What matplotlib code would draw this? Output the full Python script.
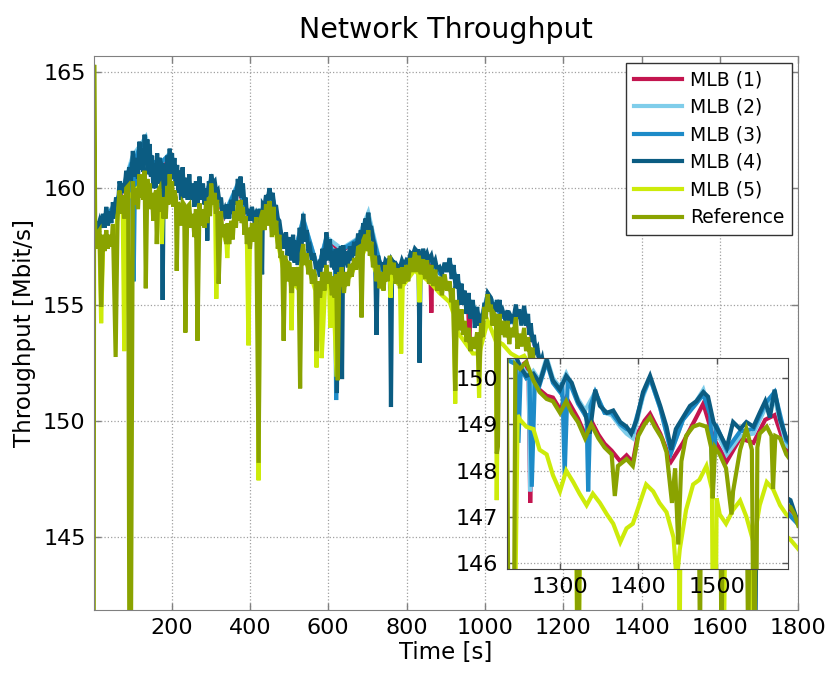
import numpy as np
import matplotlib
matplotlib.use("Agg")
import matplotlib.pyplot as plt

# ---- data: (time [s], throughput [Mbit/s]) ----
mlb1 = [(5, 158.1), (25, 158.6), (50, 159.1), (75, 159.9), (101, 161.2), (118, 161.6), (134, 161.6),
        (150, 161.0), (169, 160.9), (195, 161.3), (220, 160.4), (254, 159.9), (288, 159.7), (301, 160.2),
        (335, 158.8), (369, 160.0), (395, 158.8), (433, 159.0), (458, 159.4), (484, 157.6), (518, 157.4),
        (536, 158.5), (574, 156.5), (595, 157.8), (634, 157.3), (676, 157.8), (702, 158.6), (736, 156.5),
        (778, 156.4), (821, 157.2), (860, 156.9), (863, 154.65), (866, 156.9), (884, 156.4), (910, 156.7),
        (948, 155.3), (957, 155.1), (960, 153.15), (963, 155.0), (969, 154.9), (990, 154.4), (1007, 155.3),
        (1045, 154.5), (1066, 154.3), (1100, 154.6), (1134, 152.9), (1160, 151.9), (1200, 151.0),
        (1232, 150.5), (1249, 150.25), (1257, 150.35), (1260, 150.0), (1262, 147.3), (1265, 149.9),
        (1274, 149.75), (1283, 149.62), (1291, 149.58), (1300, 149.33), (1308, 149.58), (1323, 149.13),
        (1332, 148.78), (1340, 149.08), (1349, 148.78), (1357, 148.58), (1366, 148.43), (1377, 148.2),
        (1385, 148.33), (1393, 148.18), (1400, 148.83), (1408, 149.08), (1415, 149.23), (1428, 148.8),
        (1442, 148.2), (1457, 148.6), (1474, 149.15), (1483, 149.45), (1496, 148.7), (1513, 148.2),
        (1530, 148.7), (1547, 148.6), (1562, 149.1), (1574, 149.2), (1589, 148.45), (1620, 148.0),
        (1700, 147.2), (1800, 145.8)]

mlb2 = [(5, 158.2), (25, 158.7), (50, 159.2), (75, 160.0), (101, 161.4), (118, 161.8), (134, 162.2),
        (150, 161.1), (169, 161.0), (195, 161.5), (220, 160.5), (254, 160.0), (288, 159.8), (301, 160.4),
        (335, 158.9), (369, 160.2), (395, 158.9), (433, 159.1), (458, 159.6), (484, 157.7), (518, 157.5),
        (536, 158.7), (574, 156.5), (595, 157.9), (634, 157.4), (676, 157.85), (702, 158.95), (736, 156.5),
        (778, 156.4), (821, 157.2), (863, 156.9), (884, 156.4), (910, 156.8), (948, 155.4), (969, 155.0),
        (990, 154.4), (1007, 155.45), (1045, 154.55), (1066, 154.3), (1100, 154.8), (1134, 152.95),
        (1160, 152.0), (1200, 151.0), (1232, 150.45), (1249, 150.3), (1257, 150.1), (1260, 150.1),
        (1262, 147.55), (1264, 150.1), (1266, 150.15), (1274, 149.95), (1283, 150.45), (1291, 150.0),
        (1300, 149.8), (1308, 150.1), (1323, 149.55), (1332, 149.3), (1345, 149.7), (1357, 149.25),
        (1366, 149.2), (1377, 148.95), (1385, 148.8), (1393, 148.7), (1406, 149.6), (1415, 150.0),
        (1428, 149.35), (1442, 148.4), (1457, 149.1), (1474, 149.5), (1483, 149.75), (1496, 149.0),
        (1513, 148.35), (1530, 148.75), (1547, 148.8), (1562, 149.35), (1574, 149.55), (1589, 148.55),
        (1620, 148.1), (1700, 147.3), (1800, 145.6)]

mlb3 = [(5, 158.15), (25, 158.65), (50, 159.15), (75, 159.95), (98, 161.1), (103, 156.0), (107, 161.2),
        (118, 161.75), (134, 161.95), (150, 161.15), (169, 161.05), (195, 161.45), (220, 160.5),
        (254, 159.95), (288, 159.75), (301, 160.35), (335, 158.85), (369, 160.15), (395, 158.85),
        (433, 159.05), (458, 159.55), (484, 157.65), (518, 157.5), (536, 158.65), (574, 156.5),
        (595, 157.85), (617, 157.1), (620, 150.9), (624, 157.2), (634, 157.35), (676, 157.8), (702, 158.7),
        (736, 156.5), (778, 156.35), (821, 157.15), (863, 156.85), (884, 156.35), (910, 156.75),
        (948, 155.35), (969, 154.95), (990, 154.35), (1007, 155.25), (1045, 154.5), (1066, 154.25),
        (1100, 154.7), (1134, 152.9), (1160, 151.95), (1200, 150.95), (1232, 150.4), (1244, 150.3),
        (1247, 148.6), (1250, 150.2), (1257, 150.0), (1261, 150.05), (1264, 147.65), (1268, 150.0),
        (1274, 149.85), (1283, 150.35), (1291, 149.9), (1300, 149.7), (1303, 149.9), (1306, 147.9),
        (1310, 150.0), (1323, 149.45), (1332, 149.2), (1334, 149.2), (1336, 147.55), (1339, 149.4),
        (1345, 149.7), (1357, 149.25), (1366, 149.25), (1377, 149.0), (1385, 148.9), (1393, 148.85),
        (1406, 149.65), (1415, 150.0), (1428, 149.35), (1442, 148.4), (1457, 149.1), (1474, 149.45),
        (1483, 149.65), (1492, 149.2), (1495, 147.6), (1499, 149.0), (1513, 148.45), (1530, 148.85),
        (1547, 148.9), (1562, 149.45), (1574, 149.7), (1589, 148.65), (1620, 148.15), (1700, 147.35),
        (1800, 145.55)]

mlb4 = [(2, 158.3), (16, 158.6), (25, 158.9), (33, 159.2), (42, 159.0), (50, 159.4), (58, 159.6),
        (67, 160.3), (75, 160.2), (84, 160.75), (92, 160.9), (101, 161.6), (110, 161.3), (118, 162.0),
        (125, 161.7), (131, 162.3), (138, 162.1), (144, 161.9), (150, 161.4), (156, 161.05), (163, 161.5),
        (169, 161.3), (174, 161.0), (177, 155.2), (180, 160.95), (182, 161.05), (189, 161.4), (195, 161.7),
        (201, 161.5), (207, 161.3), (214, 161.0), (220, 160.75), (228, 160.9), (237, 160.45), (245, 160.6),
        (254, 160.2), (262, 160.3), (271, 160.5), (280, 160.2), (288, 160.0), (291, 157.75), (295, 160.3),
        (301, 160.6), (310, 160.3), (318, 159.9), (326, 159.6), (335, 159.1), (343, 159.3), (352, 159.5),
        (360, 159.9), (369, 160.4), (376, 160.5), (382, 160.2), (389, 159.6), (395, 159.1), (405, 159.2),
        (416, 158.95), (425, 159.1), (431, 156.3), (433, 159.3), (441, 159.7), (450, 160.0), (458, 159.8),
        (467, 159.2), (475, 158.6), (484, 157.9), (492, 158.1), (501, 157.9), (510, 158.0), (518, 157.75),
        (527, 158.3), (536, 158.9), (545, 158.2), (553, 157.45), (563, 157.2), (574, 156.75), (585, 157.4),
        (595, 158.1), (604, 157.8), (613, 157.3), (619, 157.4), (622, 151.2), (626, 157.4), (632, 157.5),
        (635, 151.8), (638, 157.55), (645, 157.3), (655, 157.5), (666, 157.7), (676, 158.05), (683, 158.2),
        (689, 158.5), (695, 158.7), (702, 158.95), (710, 158.3), (719, 157.5), (723, 153.7), (727, 157.1),
        (736, 156.75), (746, 156.9), (757, 157.0), (760, 150.6), (763, 156.9), (767, 156.8), (778, 156.6),
        (788, 156.9), (799, 156.9), (810, 157.2), (821, 157.4), (830, 157.3), (833, 152.5), (836, 157.3),
        (842, 157.4), (852, 157.2), (863, 157.1), (873, 156.9), (884, 156.6), (897, 156.8), (910, 157.0),
        (920, 156.7), (931, 156.3), (940, 155.9), (948, 155.6), (958, 155.5), (969, 155.2), (980, 154.9),
        (990, 154.6), (998, 155.0), (1007, 155.5), (1015, 155.3), (1024, 155.0), (1031, 155.2),
        (1037, 155.2), (1045, 154.75), (1058, 154.75), (1066, 154.5), (1079, 155.0), (1087, 154.8),
        (1100, 154.95), (1110, 154.6), (1117, 154.2), (1125, 153.7), (1134, 153.15), (1146, 152.7),
        (1160, 152.2), (1180, 151.6), (1200, 151.2), (1220, 150.7), (1234, 150.5), (1241, 150.6),
        (1249, 150.25), (1257, 150.05), (1266, 150.1), (1274, 149.9), (1283, 150.4), (1291, 149.95),
        (1300, 149.75), (1308, 150.05), (1315, 149.9), (1323, 149.5), (1332, 149.25), (1338, 148.8),
        (1345, 149.75), (1351, 149.4), (1360, 149.25), (1368, 149.3), (1377, 149.05), (1385, 148.95),
        (1391, 148.8), (1398, 149.1), (1406, 149.7), (1415, 150.05), (1421, 149.75), (1428, 149.4),
        (1436, 148.95), (1442, 148.45), (1448, 148.9), (1457, 149.15), (1466, 149.4), (1474, 149.5),
        (1483, 149.7), (1489, 149.6), (1496, 149.05), (1504, 148.8), (1513, 148.5), (1521, 149.05),
        (1530, 148.9), (1538, 149.05), (1547, 148.95), (1555, 149.25), (1562, 149.5), (1568, 149.15),
        (1574, 149.75), (1581, 149.1), (1589, 148.7), (1600, 148.5), (1620, 148.2), (1640, 148.0),
        (1660, 147.8), (1680, 147.6), (1686, 147.5), (1690, 140.0), (1694, 147.45), (1700, 147.4),
        (1720, 147.2), (1732, 147.1), (1735, 143.9), (1738, 147.0), (1760, 146.8), (1780, 146.6),
        (1790, 146.1), (1800, 145.6)]

# lower edge of the jagged MLB (4) trace in the main panel
mlb4_troughs = [(9, 158.2), (20, 158.3), (29, 158.3), (37, 158.4), (46, 158.5), (54, 158.7), (62, 159.0),
                (71, 159.9), (79, 159.8), (88, 160.1), (96, 160.3), (105, 160.5), (114, 160.4),
                (121, 160.8), (128, 160.7), (134, 161.0), (141, 160.6), (147, 160.5), (153, 160.0),
                (159, 160.0), (166, 160.2), (185, 159.9), (192, 160.4), (198, 160.8), (204, 160.4),
                (210, 160.1), (217, 159.8), (224, 159.5), (232, 159.6), (241, 159.5), (249, 159.5),
                (258, 159.2), (266, 159.3), (275, 159.5), (284, 159.3), (298, 159.8), (305, 160.2),
                (314, 159.8), (322, 159.4), (330, 158.9), (339, 158.7), (347, 158.7), (356, 158.9),
                (364, 159.3), (372, 159.7), (379, 159.6), (386, 159.3), (392, 158.9), (400, 158.6),
                (410, 158.7), (420, 158.8), (437, 159.2), (445, 159.5), (454, 159.5), (462, 159.2),
                (471, 158.7), (479, 158.1), (488, 157.4), (496, 157.1), (505, 156.9), (514, 156.8),
                (522, 156.7), (531, 157.2), (540, 157.7), (549, 157.3), (558, 156.9), (568, 156.6),
                (579, 156.2), (590, 156.6), (600, 156.9), (609, 156.6), (616, 156.5), (629, 156.7),
                (641, 156.7), (650, 156.6), (660, 156.9), (671, 157.1), (680, 157.5), (686, 157.7),
                (692, 157.9), (698, 158.2), (706, 158.3), (714, 157.8), (731, 156.8), (741, 156.5),
                (751, 156.8), (771, 156.8), (783, 156.6), (793, 156.7), (804, 156.8), (815, 157.1),
                (826, 157.3), (839, 157.0), (847, 157.0), (857, 156.9), (868, 156.7), (878, 156.5),
                (890, 156.3), (903, 156.4), (915, 156.1), (925, 155.7), (935, 155.0), (944, 155.0),
                (953, 154.6), (963, 154.4), (974, 154.0), (985, 154.1), (994, 154.3), (1002, 155.0),
                (1011, 155.4), (1019, 155.0), (1027, 154.7), (1034, 154.7), (1041, 154.6), (1051, 154.4),
                (1062, 154.2), (1072, 154.3), (1083, 154.4), (1093, 154.1), (1105, 154.1), (1113, 153.7),
                (1121, 153.4), (1129, 153.0), (1140, 152.4), (1153, 152.0)]

mlb5 = [(2, 157.4), (8, 157.6), (16, 157.6), (20, 154.2), (25, 157.5), (35, 157.6), (45, 157.8),
        (56, 158.0), (67, 159.4), (75, 159.2), (79, 153.0), (84, 159.5), (101, 159.8), (118, 160.1),
        (131, 160.3), (144, 159.8), (156, 159.0), (172, 159.3), (175, 157.6), (178, 159.3), (182, 159.2),
        (195, 160.1), (207, 159.4), (220, 158.8), (237, 158.7), (254, 158.4), (271, 158.9), (288, 159.0),
        (301, 159.7), (311, 159.2), (314, 155.25), (318, 158.9), (335, 157.9), (339, 158.0), (342, 157.0),
        (345, 158.0), (352, 158.1), (369, 159.0), (382, 158.7), (392, 158.0), (396, 153.25), (400, 157.9),
        (416, 158.2), (420, 158.2), (422, 147.45), (425, 158.3), (433, 158.5), (450, 158.9), (467, 158.0),
        (484, 156.6), (501, 156.2), (504, 156.1), (506, 153.9), (509, 156.0), (518, 155.8), (536, 157.1),
        (553, 156.4), (567, 155.6), (570, 152.3), (574, 155.4), (580, 155.7), (583, 152.7), (587, 154.0),
        (592, 155.9), (595, 156.1), (602, 155.9), (605, 154.0), (609, 155.7), (613, 155.6), (621, 151.9),
        (625, 155.8), (634, 156.0), (655, 156.2), (676, 156.9), (689, 157.2), (702, 157.7), (719, 156.5),
        (736, 155.8), (757, 156.4), (759, 155.3), (762, 156.3), (778, 155.9), (783, 155.9), (786, 152.9),
        (790, 155.8), (799, 156.0), (821, 156.5), (830, 156.3), (833, 155.1), (836, 156.3), (842, 156.2),
        (863, 155.9), (884, 155.5), (910, 155.1), (920, 154.6), (924, 150.75), (928, 154.2), (931, 153.8),
        (948, 153.4), (969, 152.9), (982, 152.9), (985, 151.0), (988, 153.0), (990, 153.2), (1007, 154.3),
        (1024, 153.6), (1028, 153.4), (1030, 146.6), (1034, 153.4), (1045, 153.3), (1066, 152.9),
        (1087, 152.7), (1100, 152.8), (1121, 152.2), (1146, 151.0), (1180, 150.2), (1210, 149.6),
        (1232, 149.3), (1235, 140.0), (1239, 140.0), (1246, 149.2), (1249, 149.1), (1257, 148.95),
        (1266, 148.9), (1274, 148.45), (1283, 148.35), (1291, 147.9), (1300, 147.55), (1308, 148.0),
        (1317, 147.75), (1325, 147.5), (1334, 147.25), (1342, 147.5), (1351, 147.3), (1360, 147.05),
        (1368, 146.85), (1377, 146.45), (1385, 146.75), (1393, 146.85), (1402, 147.3), (1410, 147.7),
        (1419, 147.55), (1427, 147.3), (1436, 147.1), (1445, 146.55), (1449, 145.6), (1453, 146.3),
        (1461, 147.15), (1470, 147.7), (1478, 147.8), (1487, 148.1), (1494, 147.6), (1497, 140.0),
        (1500, 147.4), (1504, 147.05), (1512, 146.85), (1521, 147.15), (1530, 147.35), (1538, 147.0),
        (1547, 146.45), (1555, 147.25), (1564, 147.75), (1572, 147.6), (1581, 147.25), (1589, 147.05),
        (1600, 146.9), (1606, 146.8), (1610, 140.0), (1614, 146.7), (1640, 146.3), (1676, 145.9),
        (1680, 140.0), (1684, 145.9), (1720, 145.5), (1760, 145.2), (1780, 144.9), (1800, 144.5)]

reference = [(1, 140.0), (2.2, 165.3), (5, 158.0), (12, 158.1), (16, 158.2), (20, 154.9), (25, 158.0),
             (33, 158.2), (42, 158.0), (50, 158.45), (57, 152.75), (62, 158.8), (67, 159.9), (75, 159.7),
             (84, 160.0), (89, 160.1), (92, 140.0), (96, 140.0), (101, 160.3), (110, 160.0), (118, 160.6),
             (125, 160.4), (131, 160.75), (134, 155.7), (138, 160.4), (144, 160.2), (150, 159.8),
             (156, 159.45), (160, 159.9), (162, 157.6), (166, 159.9), (169, 160.0), (176, 159.6),
             (182, 159.6), (189, 160.1), (195, 160.6), (201, 160.3), (207, 159.9), (211, 159.6),
             (213, 156.45), (216, 159.4), (220, 159.2), (228, 159.4), (232, 159.3), (235, 153.8),
             (240, 159.2), (245, 159.3), (254, 158.9), (262, 159.1), (266, 153.45), (271, 159.35),
             (280, 159.1), (288, 159.45), (295, 159.6), (301, 160.2), (310, 159.8), (316, 159.5),
             (320, 155.9), (326, 159.0), (335, 158.45), (343, 158.5), (352, 158.6), (360, 159.0),
             (369, 159.45), (376, 159.5), (382, 159.2), (389, 158.8), (395, 158.3), (405, 158.5),
             (416, 158.75), (422, 148.2), (427, 158.7), (433, 159.05), (441, 159.3), (450, 159.45),
             (456, 157.9), (460, 159.2), (467, 158.6), (475, 158.0), (482, 157.3), (486, 153.45),
             (490, 157.1), (497, 156.8), (501, 156.75), (506, 155.5), (512, 156.6), (518, 156.3),
             (524, 156.6), (528, 151.4), (532, 157.2), (536, 157.6), (545, 157.2), (553, 156.9),
             (563, 156.5), (567, 156.2), (570, 153.0), (574, 156.0), (585, 156.4), (595, 156.7),
             (604, 156.4), (613, 156.2), (620, 156.3), (624, 151.75), (628, 156.4), (634, 156.6),
             (645, 156.4), (655, 156.75), (666, 157.0), (676, 157.45), (681, 157.5), (685, 154.45),
             (689, 157.75), (695, 158.0), (702, 158.2), (710, 157.7), (719, 157.1), (727, 156.7),
             (736, 156.4), (746, 156.7), (757, 157.1), (767, 156.8), (778, 156.55), (788, 156.6),
             (799, 156.7), (810, 157.0), (821, 157.25), (831, 157.1), (842, 156.95), (852, 156.9),
             (863, 156.7), (873, 156.5), (884, 156.2), (897, 156.3), (910, 156.0), (918, 155.7),
             (924, 151.3), (928, 155.2), (931, 154.6), (940, 154.8), (948, 154.3), (958, 154.0),
             (969, 153.6), (980, 153.8), (985, 151.7), (990, 154.2), (998, 154.9), (1007, 155.45),
             (1015, 155.0), (1024, 154.6), (1028, 154.5), (1030, 148.6), (1033, 148.9), (1037, 154.6),
             (1045, 154.3), (1058, 154.3), (1066, 154.0), (1079, 154.45), (1087, 153.75), (1100, 154.0),
             (1110, 153.6), (1121, 153.15), (1134, 152.6), (1146, 152.0), (1160, 151.7), (1180, 151.2),
             (1200, 150.8), (1220, 150.5), (1232, 150.4), (1236, 140.0), (1240, 140.0), (1243, 150.3),
             (1249, 150.2), (1257, 150.35), (1266, 149.95), (1274, 149.7), (1283, 149.55), (1291, 149.5),
             (1300, 149.25), (1308, 149.5), (1315, 149.25), (1323, 149.05), (1332, 148.7), (1340, 149.0),
             (1349, 148.7), (1357, 148.5), (1366, 148.35), (1370, 147.45), (1374, 148.1), (1385, 148.25),
             (1393, 148.1), (1400, 148.75), (1408, 149.0), (1415, 149.15), (1421, 148.95), (1430, 148.7),
             (1436, 148.4), (1443, 147.3), (1447, 148.05), (1451, 146.4), (1455, 148.2), (1461, 148.75),
             (1470, 148.95), (1478, 149.0), (1487, 148.95), (1493, 148.5), (1495, 147.4), (1498, 148.5),
             (1504, 148.35), (1512, 148.05), (1519, 147.05), (1521, 147.55), (1530, 148.45), (1538, 148.9),
             (1545, 148.45), (1549, 140.0), (1552, 148.5), (1555, 148.8), (1564, 148.95), (1570, 148.75),
             (1572, 147.6), (1575, 148.75), (1581, 148.7), (1589, 148.35), (1600, 148.1), (1604, 140.0),
             (1608, 147.9), (1620, 147.8), (1640, 147.6), (1660, 147.4), (1668, 147.3), (1672, 140.0),
             (1676, 147.2), (1684, 147.1), (1688, 140.0), (1692, 147.0), (1700, 147.0), (1720, 146.8),
             (1740, 146.7), (1760, 146.5), (1780, 146.3), (1790, 146.0), (1800, 145.5)]

# lower edge of the jagged Reference trace in the main panel
ref_troughs = [(9, 157.4), (29, 157.3), (37, 157.4), (46, 157.5), (71, 158.9), (79, 158.7), (105, 159.3),
               (114, 159.1), (121, 159.6), (128, 159.5), (141, 159.3), (147, 159.1), (153, 158.6),
               (172, 159.0), (179, 158.7), (185, 158.7), (192, 159.3), (198, 159.6), (204, 159.2),
               (224, 158.4), (249, 158.3), (258, 157.9), (275, 158.4), (284, 158.3), (291, 158.5),
               (298, 158.8), (305, 159.3), (313, 158.9), (330, 157.9), (339, 157.6), (347, 157.6),
               (356, 157.8), (364, 158.3), (372, 158.6), (379, 158.5), (386, 158.0), (392, 157.6),
               (400, 157.4), (410, 157.7), (437, 158.2), (445, 158.4), (464, 158.0), (471, 157.4),
               (478, 157.0), (494, 156.0), (515, 155.8), (540, 156.7), (549, 156.3), (558, 155.9),
               (579, 155.3), (590, 155.6), (600, 155.9), (609, 155.4), (616, 155.3), (631, 155.8),
               (640, 155.5), (650, 155.8), (660, 156.2), (671, 156.5), (698, 157.3), (706, 157.1),
               (714, 156.6), (723, 156.0), (731, 155.7), (741, 155.6), (751, 156.0), (762, 156.3),
               (772, 155.9), (783, 155.7), (793, 155.9), (804, 156.0), (815, 156.4), (826, 156.4),
               (836, 156.3), (847, 156.1), (857, 155.9), (868, 155.8), (878, 155.6), (890, 155.4),
               (903, 155.6), (914, 155.1), (935, 153.9), (944, 153.7), (953, 153.4), (963, 153.0),
               (974, 153.1), (994, 153.6), (1002, 154.4), (1011, 154.7), (1019, 154.1), (1041, 153.7),
               (1051, 153.6), (1062, 153.3), (1072, 153.6), (1083, 153.1), (1093, 153.2), (1105, 153.0),
               (1115, 152.7), (1128, 152.0), (1140, 151.5), (1153, 151.2)]

labels = ["MLB (1)", "MLB (2)", "MLB (3)", "MLB (4)", "MLB (5)", "Reference"]
colors = ["#c3154f", "#7fcdea", "#1d8bc8", "#0b5c82", "#cdeb0a", "#8aa300"]
series = [mlb1, mlb2, mlb3, mlb4 + mlb4_troughs, mlb5, reference + ref_troughs]

LW = 3.0
GRID = dict(color="#a0a0a0", linestyle=":", linewidth=0.9)


def as_xy(pairs):
    a = np.array(sorted(pairs))
    return a[:, 0], a[:, 1]


fig = plt.figure(figsize=(8.3, 6.75), dpi=100)
ax = fig.add_axes([93.9 / 830, 65 / 675, 704.4 / 830, 554 / 675])

for s, lab, c in zip(series, labels, colors):
    x, y = as_xy(s)
    ax.plot(x, y, color=c, lw=LW, label=lab, solid_joinstyle="miter")

ax.set_xlim(1.5, 1800)
ax.set_ylim(141.88, 165.68)
ax.set_xticks(range(200, 1801, 200))
ax.set_yticks([145, 150, 155, 160, 165])
ax.grid(True, **GRID)
ax.tick_params(direction="in", length=5, width=1, colors="#808080", labelcolor="black",
               labelsize=16, top=True, right=True, pad=6)
for sp in ax.spines.values():
    sp.set_color("#808080")
ax.set_xlabel("Time [s]", fontsize=16.5, labelpad=2)
ax.set_ylabel("Throughput [Mbit/s]", fontsize=16.5, labelpad=5)
ax.set_title("Network Throughput", fontsize=20.5, pad=13)

leg = ax.legend(loc="upper right", fontsize=13.5, handlelength=2.6, handletextpad=0.4,
                labelspacing=0.46, borderaxespad=0.35, borderpad=0.4, fancybox=False,
                framealpha=1)
leg.get_frame().set_edgecolor("#333333")
leg.get_frame().set_linewidth(1.0)

# zoomed inset
axin = fig.add_axes([506.7 / 830, (675 - 569) / 675, 281.6 / 830, 210.7 / 675])
for s, c in zip(series, colors):
    x, y = as_xy(s)
    axin.plot(x, y, color=c, lw=LW, solid_joinstyle="miter")
axin.set_xlim(1232, 1591.5)
axin.set_ylim(145.87, 150.43)
axin.set_xticks([1300, 1400, 1500])
axin.set_yticks([146, 147, 148, 149, 150])
axin.grid(True, **GRID)
axin.tick_params(direction="in", length=4, width=1, colors="#555555", labelcolor="black",
                 labelsize=16, top=True, right=True, pad=6)
for sp in axin.spines.values():
    sp.set_color("#444444")

fig.savefig("out.png", dpi=100)
